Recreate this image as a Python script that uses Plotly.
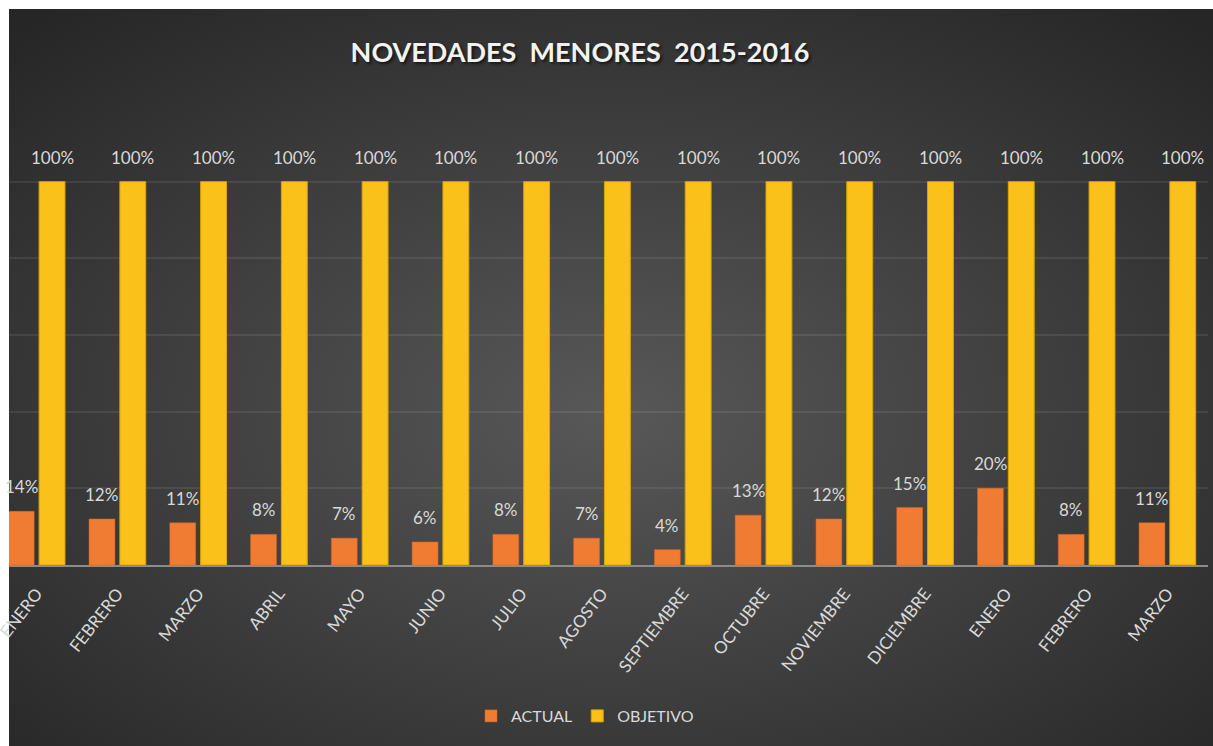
import base64
import plotly.graph_objects as go

# Monthly data, Jan 2015 - Mar 2016
months = ["ENERO", "FEBRERO", "MARZO", "ABRIL", "MAYO", "JUNIO", "JULIO", "AGOSTO",
          "SEPTIEMBRE", "OCTUBRE", "NOVIEMBRE", "DICIEMBRE", "ENERO", "FEBRERO", "MARZO"]
actual = [14, 12, 11, 8, 7, 6, 8, 7, 4, 13, 12, 15, 20, 8, 11]
objetivo = [100, 100, 100, 100, 100, 100, 100, 100, 100, 100, 100, 100, 100, 100, 100]

W, H = 1213, 746
ML, MR, MT, MB = 9, 5, 105, 181
plot_w = W - ML - MR
plot_h = H - MT - MB

FONT = "Lato, Roboto, sans-serif"
LABEL_COLOR = "#D9D9D9"
ORANGE = "#EF7C32"
YELLOW = "#F9C11A"

x = list(range(len(months)))

# Dark radial-gradient backdrop (SVG data URI)
bg_w, bg_h = W - 9, H - 9
svg = f'''<svg xmlns="http://www.w3.org/2000/svg" width="{bg_w}" height="{bg_h}" viewBox="0 0 {bg_w} {bg_h}" preserveAspectRatio="none">
<defs><radialGradient id="g" cx="0.5" cy="0.55" r="0.72">
<stop offset="0" stop-color="#585858"/><stop offset="1" stop-color="#262626"/>
</radialGradient></defs>
<rect width="{bg_w}" height="{bg_h}" fill="url(#g)"/></svg>'''
bg_uri = "data:image/svg+xml;base64," + base64.b64encode(svg.encode()).decode()

fig = go.Figure()
fig.add_trace(go.Bar(x=x, y=actual, name="ACTUAL",
                     marker=dict(color=ORANGE, line=dict(color="#D9661E", width=0.5))))
fig.add_trace(go.Bar(x=x, y=objetivo, name="OBJETIVO",
                     marker=dict(color=YELLOW, line=dict(color="#D9A400", width=1))))

bargap, bargroupgap = 0.237, 0.16
group_w = 1 - bargap
slot = group_w / 2
annotations = []
for i in x:
    for val, off in ((actual[i], -slot / 2), (objetivo[i], slot / 2)):
        annotations.append(dict(x=i + off, y=val, xref="x", yref="y",
                                text=f"{val}%", showarrow=False,
                                yanchor="bottom", yshift=12,
                                font=dict(family=FONT, size=17, color=LABEL_COLOR)))

fig.update_layout(
    width=W, height=H,
    margin=dict(l=ML, r=MR, t=MT, b=MB, autoexpand=False),
    paper_bgcolor="white",
    plot_bgcolor="rgba(0,0,0,0)",
    barmode="group", bargap=bargap, bargroupgap=bargroupgap,
    title=dict(text="NOVEDADES&nbsp; MENORES&nbsp; 2015-2016",
               x=580 / W, xanchor="center", xref="container",
               y=1 - 53 / H, yanchor="middle", yref="container",
               font=dict(family=FONT, size=27, color="#F2F2F2", weight="bold",
                         shadow="2px 2px 3px rgba(0,0,0,0.6)")),
    xaxis=dict(range=[-0.342, 14.503], tickmode="array", tickvals=x, ticktext=months,
               tickangle=-52, ticks="", ticklabelstandoff=10, automargin=False,
               ticklabeloverflow="allow",
               tickfont=dict(family=FONT, size=17, color=LABEL_COLOR),
               showgrid=False, showline=True, linecolor="#8C8C8C", linewidth=2,
               zeroline=False),
    yaxis=dict(range=[0, 120], dtick=20, showticklabels=False, ticks="", automargin=False,
               showgrid=True, gridcolor="rgba(255,255,255,0.08)", gridwidth=1.5,
               zeroline=False, showline=False),
    legend=dict(orientation="h", x=(585 - ML) / plot_w, xanchor="center",
                y=(565 - 716) / plot_h, yanchor="middle",
                font=dict(family=FONT, size=16, color=LABEL_COLOR),
                bgcolor="rgba(0,0,0,0)", itemwidth=30),
    annotations=annotations,
    images=[dict(source=bg_uri, xref="paper", yref="paper",
                 x=0, y=(565 - 9) / plot_h, sizex=bg_w / plot_w, sizey=bg_h / plot_h,
                 xanchor="left", yanchor="top", sizing="stretch", layer="below")],
    showlegend=True,
)

fig.write_html("out.html")
